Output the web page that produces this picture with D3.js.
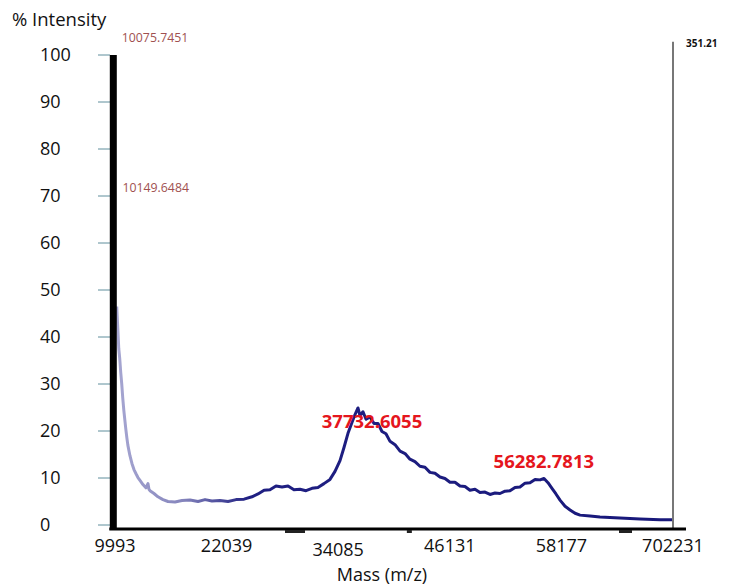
<!DOCTYPE html>
<html>
<head>
<meta charset="utf-8">
<script src="https://cdn.jsdelivr.net/npm/d3@7"></script>
<style>
  body { margin: 0; background: #fff; }
  svg { display: block; font-family: "Open Sans", sans-serif; }
</style>
</head>
<body>
<script>
// spectrum trace
var massValues = [10180, 10290, 10400, 10500, 10610, 10720, 10830, 10940, 11050, 11160,
                  11270, 11380, 11600, 11820, 12040, 12260, 12470, 12690, 13010, 13330,
                  13550, 13660, 13770, 14200, 14630, 15170, 15710, 16470, 17220, 18090,
                  18950, 19710, 20460, 21330, 22190, 23060, 23920, 24780, 25430, 26080,
                  26720, 27370, 28020, 28670, 29310, 29960, 30610, 31260, 31900, 32550,
                  33200, 33740, 34280, 34710, 35140, 35570, 35900, 36220, 36440, 36760,
                  37090, 37520, 37950, 38380, 38810, 39240, 39680, 40220, 40760, 41300,
                  41830, 42370, 42910, 43450, 43990, 44530, 45070, 45610, 46150, 46690,
                  47230, 47770, 48310, 48850, 49390, 49930, 50470, 51010, 51550, 52090,
                  52630, 53170, 53710, 54250, 54790, 55330, 55870, 56300, 56730, 57160,
                  57590, 58030, 58570, 59110, 59650, 60190, 61270, 62340, 64500, 66660,
                  68820, 70120];
var intensityValues = [46.5, 42.0, 37.5, 35.5, 32.5, 30.0, 27.0, 24.5, 22.4, 20.4,
                       18.6, 17.0, 14.8, 13.1, 11.8, 10.9, 10.1, 9.5, 8.6, 7.9,
                       8.8, 7.6, 7.3, 6.7, 6.0, 5.4, 5.0, 4.9, 5.2, 5.3,
                       5.0, 5.4, 5.1, 5.2, 5.0, 5.4, 5.5, 6.0, 6.6, 7.4,
                       7.5, 8.3, 8.1, 8.3, 7.5, 7.6, 7.3, 7.8, 8.0, 8.8,
                       9.7, 11.4, 13.7, 16.5, 19.5, 21.8, 23.5, 24.9, 23.2, 24.1,
                       22.5, 23.0, 21.6, 21.6, 19.9, 19.4, 17.8, 17.1, 15.7, 15.2,
                       14.0, 13.5, 12.5, 12.3, 11.2, 11.0, 10.2, 9.9, 9.1, 9.1,
                       8.3, 8.2, 7.4, 7.6, 6.9, 7.0, 6.5, 6.8, 6.7, 7.2,
                       7.3, 8.0, 8.1, 8.9, 9.0, 9.7, 9.6, 9.9, 9.0, 7.8,
                       6.6, 5.3, 4.0, 3.2, 2.5, 2.1, 1.9, 1.7, 1.5, 1.3,
                       1.1, 1.1];

var yTickValues = [0, 10, 20, 30, 40, 50, 60, 70, 80, 90, 100];
var xTickValues = [9993, 22039, 34085, 46131, 58177, 70223];
var xTickLabels = ["9993", "22039", "34085", "46131", "58177", "702231"];

// tall off-scale peaks at both ends
var bigPeakMass = 9810, bigPeakValue = 100;
var endPeakMass = 70223, endPeakValue = 102.8, endPeakLabel = "351.21";

// annotated peaks
var peakLabels = ["37732.6055", "56282.7813"];
var peakMasses = [37732.6055, 56282.7813];
var peakLevels = [20.6, 12.1];
var smallLabels = ["10075.7451", "10149.6484"];
var smallMasses = [10075.7451, 10149.6484];
var smallLevels = [102.8, 70.9];

// dark marks sitting on the mass axis
var axisMarkStart = [28343, 41495, 64395];
var axisMarkEnd = [30502, 42035, 65798];

var w = 730;
var h = 587;

var x = d3.scaleLinear().domain([9993, 70223]).range([115, 673]);
var y = d3.scaleLinear().domain([0, 100]).range([525, 55]);
var axisY = y(0) + 4;

var svg = d3.select("body").append("svg")
    .attr("width", w)
    .attr("height", h);

// colour of the trace fades from lavender to navy
var grad = svg.append("defs").append("linearGradient")
    .attr("id", "traceGrad")
    .attr("gradientUnits", "userSpaceOnUse")
    .attr("x1", x(9993)).attr("x2", x(70223))
    .attr("y1", 0).attr("y2", 0);
grad.append("stop").attr("offset", "0%").attr("stop-color", "#a7a7d2");
grad.append("stop").attr("offset", "12%").attr("stop-color", "#8686bd");
grad.append("stop").attr("offset", "24%").attr("stop-color", "#1f1f82");
grad.append("stop").attr("offset", "100%").attr("stop-color", "#18187a");

// y ticks
svg.selectAll("line.ytick")
    .data(yTickValues)
    .enter()
    .append("line")
    .attr("class", "ytick")
    .attr("x1", 98).attr("x2", 110)
    .attr("y1", function(d) { return y(d); })
    .attr("y2", function(d) { return y(d); })
    .attr("stroke", "#5f8e9c")
    .attr("stroke-width", 1);

svg.selectAll("text.ylab")
    .data(yTickValues)
    .enter()
    .append("text")
    .attr("class", "ylab")
    .attr("x", 40)
    .attr("y", function(d) { return y(d); })
    .attr("dy", "0.36em")
    .attr("font-size", "18px")
    .attr("fill", "#111")
    .text(function(d) { return d; });

// trace
var line = d3.line()
    .x(function(d, i) { return x(massValues[i]); })
    .y(function(d) { return y(d); });

svg.append("path")
    .datum(intensityValues)
    .attr("d", line)
    .attr("fill", "none")
    .attr("stroke", "url(#traceGrad)")
    .attr("stroke-width", 3)
    .attr("stroke-linejoin", "round");

// end peak + label
svg.append("line")
    .attr("x1", x(endPeakMass)).attr("x2", x(endPeakMass))
    .attr("y1", y(endPeakValue)).attr("y2", axisY)
    .attr("stroke", "#555")
    .attr("stroke-width", 1.6);

svg.append("text")
    .attr("x", x(endPeakMass) + 13)
    .attr("y", y(endPeakValue) + 5)
    .attr("font-size", "10px")
    .attr("font-weight", "bold")
    .attr("fill", "#111")
    .text(endPeakLabel);

// big peak at left looks like a thick axis
svg.append("line")
    .attr("x1", x(bigPeakMass)).attr("x2", x(bigPeakMass))
    .attr("y1", y(bigPeakValue)).attr("y2", axisY + 1)
    .attr("stroke", "#000")
    .attr("stroke-width", 7);

// mass axis line
svg.append("line")
    .attr("x1", x(bigPeakMass) - 4).attr("x2", x(70223) + 13)
    .attr("y1", axisY).attr("y2", axisY)
    .attr("stroke", "#000")
    .attr("stroke-width", 3);

svg.selectAll("rect.amark")
    .data(axisMarkStart)
    .enter()
    .append("rect")
    .attr("class", "amark")
    .attr("x", function(d) { return x(d); })
    .attr("y", axisY + 1)
    .attr("width", function(d, i) { return x(axisMarkEnd[i]) - x(d); })
    .attr("height", 3)
    .attr("fill", "#222");

svg.selectAll("text.xlab")
    .data(xTickValues)
    .enter()
    .append("text")
    .attr("class", "xlab")
    .attr("x", function(d) { return x(d); })
    .attr("y", function(d, i) { return i === 2 ? 556 : 552; })
    .attr("text-anchor", "middle")
    .attr("font-size", "18px")
    .attr("fill", "#111")
    .text(function(d, i) { return xTickLabels[i]; });

// titles
svg.append("text")
    .attr("x", 12).attr("y", 26)
    .attr("font-size", "18.5px")
    .attr("fill", "#111")
    .text("% Intensity");

svg.append("text")
    .attr("x", 382).attr("y", 581)
    .attr("text-anchor", "middle")
    .attr("font-size", "18px")
    .attr("fill", "#111")
    .text("Mass (m/z)");

// peak annotations
svg.selectAll("text.peak")
    .data(peakLabels)
    .enter()
    .append("text")
    .attr("class", "peak")
    .attr("x", function(d, i) { return x(peakMasses[i]); })
    .attr("y", function(d, i) { return y(peakLevels[i]); })
    .attr("text-anchor", "middle")
    .attr("font-size", "18.5px")
    .attr("font-weight", "bold")
    .attr("fill", "#e5161d")
    .text(function(d) { return d; });

svg.selectAll("text.small")
    .data(smallLabels)
    .enter()
    .append("text")
    .attr("class", "small")
    .attr("x", function(d, i) { return x(smallMasses[i]) + 6; })
    .attr("y", function(d, i) { return y(smallLevels[i]); })
    .attr("font-size", "12.3px")
    .attr("fill", "#a0504f")
    .text(function(d) { return d; });
</script>
</body>
</html>
